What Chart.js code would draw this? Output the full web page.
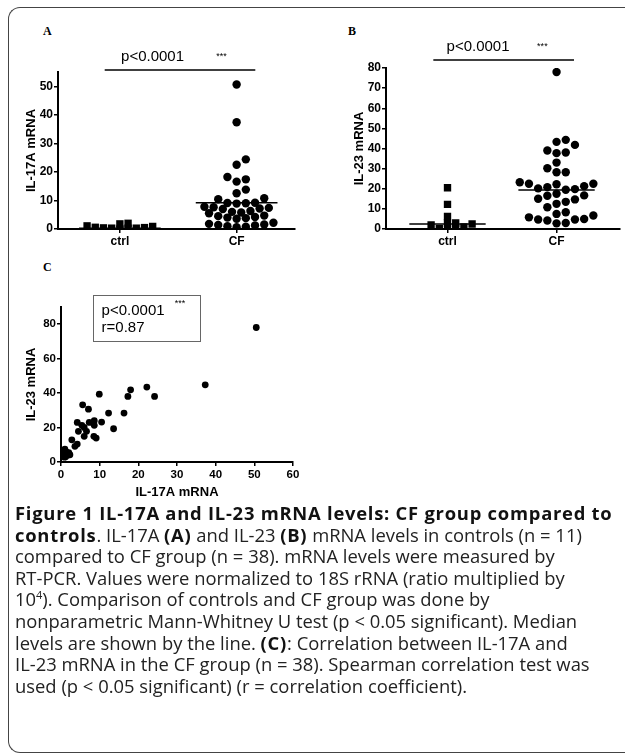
<!DOCTYPE html>
<html>
<head>
<meta charset="utf-8">
<script src="https://cdn.jsdelivr.net/npm/chart.js@4.4.1/dist/chart.umd.min.js"></script>
<style>
    body { margin: 0; width: 625px; height: 754px; overflow: hidden; position: relative; background: #fff; }
    #frame { position: absolute; left: 8px; top: 7px; width: 700px; height: 744px; border: 1.5px solid #444; border-right: none; border-radius: 12px 0 0 12px; }
    canvas { position: absolute; }
    .letter { position: absolute; font: bold 12px "Liberation Serif", serif; color: #000; }
    #caption { position: absolute; left: 15px; top: 502px; font: 18.4px "Open Sans", sans-serif; line-height: 21.6px; color: #222; white-space: nowrap; }
    #caption b { color: #111; letter-spacing: 0.75px; }
    #caption sup { font-size: 11px; line-height: 0; }
</style>
</head>
<body>
<div id="frame"></div>
<div class="letter" style="left:43px; top:24px;">A</div>
<div class="letter" style="left:348px; top:24px;">B</div>
<div class="letter" style="left:43px; top:260px;">C</div>
<canvas id="chartA" width="310" height="250" style="left:0; top:0;"></canvas>
<canvas id="chartB" width="315" height="250" style="left:310px; top:0;"></canvas>
<canvas id="chartC" width="310" height="250" style="left:0; top:255px;"></canvas>
<div id="caption"><b>Figure 1 IL-17A and IL-23 mRNA levels: CF group compared to</b><br><b>controls</b>. IL-17A <b>(A)</b> and IL-23 <b>(B)</b> mRNA levels in controls (n = 11)<br>compared to CF group (n = 38). mRNA levels were measured by<br>RT-PCR. Values were normalized to 18S rRNA (ratio multiplied by<br>10<sup>4</sup>). Comparison of controls and CF group was done by<br>nonparametric Mann-Whitney U test (p &lt; 0.05 significant). Median<br>levels are shown by the line. <b>(C)</b>: Correlation between IL-17A and<br>IL-23 mRNA in the CF group (n = 38). Spearman correlation test was<br>used (p &lt; 0.05 significant) (r = correlation coefficient).</div>
<script>
// 分组
const groups = ['ctrl', 'CF'];

// A: IL-17A mRNA
const il17aCtrl = [0.3, 0.3, 0.5, 2.0, 0.6, 1.1, 0.0, 0.4, 0.9, 1.8, 0.3];
const il17aCF = [50.6, 37.4, 24.4, 22.5, 18.2, 17.4, 16.6, 13.8, 12.5, 10.8, 10.4, 9.1, 9.0, 8.9, 9.2,
    7.8, 7.6, 7.4, 7.2, 7.0, 6.3, 6.0, 5.8, 5.5, 4.7, 4.5, 4.2, 4.0, 3.8, 3.6,
    2.2, 1.8, 1.6, 1.4, 1.2, 1.0, 0.8, 0.6];
const il17aMedian = [0.3, 9.2];

// B: IL-23 mRNA
const il23Ctrl = [20.5, 12.2, 6.2, 3.0, 3.0, 2.0, 0.3, 0.3, 0.3, 1.0, 2.5];
const il23CF = [78, 41.8, 43.3, 44.3, 38, 37.7, 39, 33, 30.2, 28.2, 28.2, 22.2, 20.8, 22.5, 23.2, 19.8, 20.2, 21.3, 22.5,
    16.7, 19.5, 16.5, 17.5, 14.7, 13.5, 15, 12.5, 10.8, 8.3, 7.5, 6.7, 5.8, 4.7, 4.2, 2.8, 3.0, 4.7, 5.0];
const il23Median = [2.5, 19.4];

// C: 相关性 (CF 组)
const corrIL17A = [50.5, 37.3, 22.2, 18.0, 17.3, 24.2, 9.9, 5.6, 7.1, 12.3, 16.3, 4.2, 7.3, 8.6, 10.5, 5.4, 6.0, 8.6,
    4.5, 6.6, 13.6, 6.0, 8.5, 9.1, 2.8, 4.2, 3.6, 0.5, 0.8, 1.0, 1.2, 1.5, 1.8, 2.0, 0.6, 1.3, 2.3, 0.9];
const corrIL23 = [78.1, 44.8, 43.5, 41.9, 38.1, 38.1, 39.4, 33.2, 30.7, 28.4, 28.4, 23.0, 23.0, 24.0, 23.2, 21.3, 20.1, 21.3,
    17.8, 17.8, 19.3, 14.9, 14.9, 13.9, 12.9, 10.4, 9.1, 6.5, 4.5, 7.5, 3.0, 5.0, 4.0, 5.5, 3.5, 6.0, 4.2, 2.8];

// 刻度
const yTicksA = [0, 10, 20, 30, 40, 50];
const yTicksB = [0, 10, 20, 30, 40, 50, 60, 70, 80];
const xTicksC = [0, 10, 20, 30, 40, 50, 60];
const yTicksC = [0, 20, 40, 60, 80];

const FONT = '"Liberation Sans", Arial, sans-serif';
Chart.defaults.font.family = FONT;
Chart.defaults.color = '#000';

function boldFont(size) {
    return { family: FONT, size: size, weight: 'bold' };
}

// 中位数横线
function medianLine(center, value) {
    return {
        type: 'line',
        data: [{ x: center - 0.35, y: value }, { x: center + 0.35, y: value }],
        borderColor: '#000',
        borderWidth: 1.5,
        pointRadius: 0
    };
}

// 显著性标注线
const bracketPlugin = {
    id: 'bracket',
    afterDraw(chart, args, opts) {
        const { ctx, scales: { x, y } } = chart;
        const py = y.getPixelForValue(opts.y);
        ctx.save();
        ctx.strokeStyle = '#000';
        ctx.lineWidth = 1.5;
        ctx.beginPath();
        ctx.moveTo(x.getPixelForValue(0.87), py);
        ctx.lineTo(x.getPixelForValue(2.16), py);
        ctx.stroke();
        ctx.fillStyle = '#000';
        ctx.textAlign = 'center';
        ctx.font = '15px ' + FONT;
        ctx.fillText('p<0.0001', x.getPixelForValue(1.28), py - 9);
        ctx.font = '9px ' + FONT;
        ctx.fillText('***', x.getPixelForValue(1.87), py - 11);
        ctx.restore();
    }
};

// 统计结果框
const statBoxPlugin = {
    id: 'statBox',
    afterDraw(chart) {
        const { ctx, scales: { x, y } } = chart;
        const x0 = x.getPixelForValue(8.2), x1 = x.getPixelForValue(35.8);
        const y0 = y.getPixelForValue(97), y1 = y.getPixelForValue(70.3);
        ctx.save();
        ctx.strokeStyle = '#666';
        ctx.lineWidth = 1;
        ctx.strokeRect(Math.round(x0) + 0.5, Math.round(y0) + 0.5, Math.round(x1 - x0), Math.round(y1 - y0));
        ctx.fillStyle = '#000';
        ctx.font = '15px ' + FONT;
        ctx.fillText('p<0.0001', x.getPixelForValue(10.5), y.getPixelForValue(85.4));
        ctx.fillText('r=0.87', x.getPixelForValue(10.5), y.getPixelForValue(75.5));
        ctx.font = '9px ' + FONT;
        ctx.textAlign = 'center';
        ctx.fillText('***', x.getPixelForValue(30.8), y.getPixelForValue(90.6));
        ctx.restore();
    }
};

// 按像素排列散点 (类似 GraphPad 的 scatter dot plot)
// half: 允许半格错位, 让相邻行交错排列
function swarm(chart, dsIndex, center, step, minDist, half) {
    const xs = chart.scales.x, ys = chart.scales.y;
    const pts = chart.data.datasets[dsIndex].data;
    const cx = xs.getPixelForValue(center);
    const unit = half ? step / 2 : step;
    const order = pts.map((p, i) => i).sort((a, b) => pts[a].y - pts[b].y);
    const placed = [];
    order.forEach(i => {
        const py = ys.getPixelForValue(pts[i].y);
        for (let k = 0; k < 40; k++) {
            const px = cx + (k % 2 ? 1 : -1) * Math.ceil(k / 2) * unit;
            if (placed.every(q => Math.hypot(q.x - px, q.y - py) >= minDist)) {
                placed.push({ x: px, y: py });
                pts[i].x = xs.getValueForPixel(px);
                break;
            }
        }
    });
}

function groupChart(id, ctrl, cf, median, cfg) {
    const chart = new Chart(document.getElementById(id), {
        type: 'scatter',
        data: {
            datasets: [
                { data: ctrl.map(v => ({ x: 1, y: v })), pointStyle: 'rect', pointRadius: 5.2, backgroundColor: '#000', borderWidth: 0 },
                { data: cf.map(v => ({ x: 2, y: v })), pointStyle: 'circle', pointRadius: 4.2, backgroundColor: '#000', borderWidth: 0 },
                medianLine(1, median[0]),
                medianLine(2, median[1])
            ]
        },
        options: {
            responsive: false,
            animation: false,
            events: [],
            layout: { padding: { top: cfg.top, right: cfg.right, left: 0, bottom: 0 } },
            plugins: {
                legend: { display: false },
                tooltip: { enabled: false },
                bracket: { y: cfg.bracketY }
            },
            scales: {
                x: {
                    type: 'linear',
                    min: cfg.xMin,
                    max: cfg.xMax,
                    afterBuildTicks: s => { s.ticks = [{ value: 1 }, { value: 2 }]; },
                    afterFit: s => { s.height = 21; },
                    ticks: { callback: v => groups[v - 1], font: boldFont(12), color: '#000', padding: 1 },
                    grid: { drawOnChartArea: false, tickLength: 4, color: '#000', lineWidth: 1.5 },
                    border: { color: '#000', width: 2 }
                },
                y: {
                    min: 0,
                    max: cfg.yMax,
                    afterBuildTicks: s => { s.ticks = cfg.yTicks.map(v => ({ value: v })); },
                    afterFit: s => { s.width = cfg.yWidth; },
                    ticks: { font: boldFont(12), color: '#000', padding: 1 },
                    grid: { drawOnChartArea: false, tickLength: 4, color: '#000', lineWidth: 1.5 },
                    border: { color: '#000', width: 2 },
                    title: { display: true, text: cfg.yTitle, font: boldFont(13), color: '#000', padding: { top: cfg.titlePad, bottom: 0 } }
                }
            }
        },
        plugins: [bracketPlugin]
    });
    swarm(chart, 0, 1, 8.2, 4.5, false);
    swarm(chart, 1, 2, 9.2, cfg.cfDist, cfg.half);
    chart.update('none');
    return chart;
}

groupChart('chartA', il17aCtrl, il17aCF, il17aMedian, {
    top: 72, right: 15, yWidth: 58, xMin: 0.47, xMax: 2.5, yMax: 55,
    yTicks: yTicksA, yTitle: 'IL-17A mRNA', titlePad: 24, bracketY: 55.7,
    cfDist: 7.2, half: true
});

groupChart('chartB', il23Ctrl, il23CF, il23Median, {
    top: 68, right: 3, yWidth: 76, xMin: 0.436, xMax: 2.58, yMax: 80,
    yTicks: yTicksB, yTitle: 'IL-23 mRNA', titlePad: 42, bracketY: 84,
    cfDist: 8.6, half: false
});

new Chart(document.getElementById('chartC'), {
    type: 'scatter',
    data: {
        datasets: [{
            data: corrIL17A.map((v, i) => ({ x: v, y: corrIL23[i] })),
            pointRadius: 3.4,
            backgroundColor: '#000',
            borderWidth: 0
        }]
    },
    options: {
        responsive: false,
        animation: false,
        events: [],
        layout: { padding: { top: 52, right: 17, left: 0, bottom: 0 } },
        plugins: { legend: { display: false }, tooltip: { enabled: false } },
        scales: {
            x: {
                min: 0,
                max: 60,
                afterBuildTicks: s => { s.ticks = xTicksC.map(v => ({ value: v })); },
                afterFit: s => { s.height = 43; },
                ticks: { font: boldFont(11.5), color: '#000', padding: 2 },
                grid: { drawOnChartArea: false, tickLength: 4, color: '#000', lineWidth: 1.5 },
                border: { color: '#000', width: 2 },
                title: { display: true, text: 'IL-17A mRNA', font: boldFont(13), color: '#000', padding: { top: 0, bottom: 5 } }
            },
            y: {
                min: 0,
                max: 90,
                afterBuildTicks: s => { s.ticks = yTicksC.map(v => ({ value: v })); },
                afterFit: s => { s.width = 61; },
                ticks: { font: boldFont(11.5), color: '#000', padding: 1 },
                grid: { drawOnChartArea: false, tickLength: 4, color: '#000', lineWidth: 1.5 },
                border: { color: '#000', width: 2 },
                title: { display: true, text: 'IL-23 mRNA', font: boldFont(13), color: '#000', padding: { top: 24, bottom: 0 } }
            }
        }
    },
    plugins: [statBoxPlugin]
});
</script>
</body>
</html>
